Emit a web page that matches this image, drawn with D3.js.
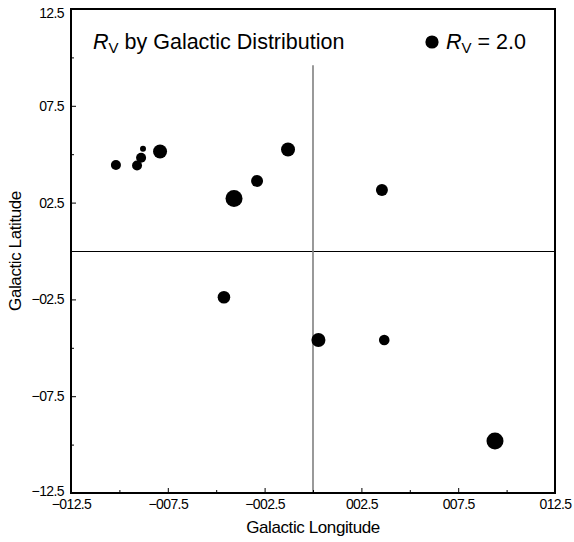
<!DOCTYPE html>
<html><head><meta charset="utf-8">
<script src="https://cdn.jsdelivr.net/npm/d3@7"></script>
<style>
html,body{margin:0;padding:0;background:#fff;}
text{font-family:"Liberation Sans",Arial,Helvetica,sans-serif;fill:#000;}
</style></head>
<body>
<svg id="chart" width="574" height="542"></svg>
<script>
// data
const longitude = [-10.18, -9.09, -8.88, -8.78, -7.90, -4.08, -2.89, -1.29, 3.56, -4.60, 0.28, 3.68, 9.40];
const latitude  = [4.44, 4.42, 4.82, 5.28, 5.14, 2.71, 3.62, 5.24, 3.15, -2.39, -4.60, -4.60, -9.81];
const rv        = [1.15, 1.15, 1.15, 0.41, 2.25, 3.32, 1.65, 2.25, 1.65, 1.82, 2.25, 1.29, 3.32];
const xTickValues = [-12.5, -7.5, -2.5, 2.5, 7.5, 12.5];
const xTickLabels = ["\u2212012.5", "\u2212007.5", "\u2212002.5", "002.5", "007.5", "012.5"];
const yTickValues = [12.5, 7.5, 2.5, -2.5, -7.5, -12.5];
const yTickLabels = ["12.5", "07.5", "02.5", "\u221202.5", "\u221207.5", "\u221212.5"];
const minorTicks = [-10, -5, 0, 5, 10];
const legendValue = 2.0;
const verticalLineTop = 9.6;

const svg = d3.select("#chart");
const L = 71, T = 9, W = 484, H = 484;
const x = d3.scaleLinear().domain([-12.5, 12.5]).range([L, L + W]);
const y = d3.scaleLinear().domain([-12.5, 12.5]).range([T + H, T]);
const r = d3.scaleSqrt().domain([0, 2]).range([0, 6.6]);

// reference lines
svg.append("line").attr("x1", x(-12.5)).attr("x2", x(12.5)).attr("y1", y(0) + 0.5).attr("y2", y(0) + 0.5)
  .attr("stroke", "#000").attr("stroke-width", 1);
svg.append("line").attr("x1", x(0)).attr("x2", x(0)).attr("y1", y(verticalLineTop)).attr("y2", y(-12.5))
  .attr("stroke", "#808080").attr("stroke-width", 1.6);

// axes
function styleAxis(g) {
  g.selectAll(".domain").remove();
  g.selectAll(".tick line").attr("stroke", "#000").attr("stroke-width", 1);
  g.selectAll(".tick text").attr("font-size", 14).attr("letter-spacing", "-0.6px")
    .attr("font-family", "\"Liberation Sans\",Arial,sans-serif");
}
const xAxis = svg.append("g").attr("transform", `translate(0,${T + H})`)
  .call(d3.axisBottom(x).tickValues(xTickValues).tickSizeInner(-5).tickSizeOuter(0).tickPadding(6)
    .tickFormat((d, i) => xTickLabels[i]));
styleAxis(xAxis);
const xMinor = svg.append("g").attr("transform", `translate(0,${T + H})`)
  .call(d3.axisBottom(x).tickValues(minorTicks).tickSizeInner(-3).tickSizeOuter(0).tickFormat(""));
styleAxis(xMinor);
const yAxis = svg.append("g").attr("transform", `translate(${L},0)`)
  .call(d3.axisLeft(y).tickValues(yTickValues).tickSizeInner(-5).tickSizeOuter(0).tickPadding(7)
    .tickFormat((d, i) => yTickLabels[i]));
styleAxis(yAxis);
yAxis.selectAll(".tick text").filter(d => d === 12.5).attr("dy", "0.62em");
yAxis.selectAll(".tick text").filter(d => d === -12.5).attr("dy", "0.2em");
const yMinor = svg.append("g").attr("transform", `translate(${L},0)`)
  .call(d3.axisLeft(y).tickValues(minorTicks).tickSizeInner(-3).tickSizeOuter(0).tickFormat(""));
styleAxis(yMinor);

// frame
svg.append("rect").attr("x", L).attr("y", T).attr("width", W).attr("height", H)
  .attr("fill", "none").attr("stroke", "#000").attr("stroke-width", 2);

// points
svg.append("g").selectAll("circle").data(longitude.map((d, i) => ({lon: d, lat: latitude[i], rv: rv[i]})))
  .join("circle")
  .attr("cx", d => x(d.lon)).attr("cy", d => y(d.lat)).attr("r", d => r(d.rv)).attr("fill", "#000");

// title
const title = svg.append("text").attr("x", 93).attr("y", 49).attr("font-size", 21.5);
title.append("tspan").attr("font-style", "italic").text("R");
title.append("tspan").attr("font-size", 15).attr("dy", 4).text("V");
title.append("tspan").attr("dy", -4).text(" by Galactic Distribution");

// legend
svg.append("circle").attr("cx", 432).attr("cy", 42).attr("r", r(legendValue)).attr("fill", "#000");
const leg = svg.append("text").attr("x", 446).attr("y", 49).attr("font-size", 21.5);
leg.append("tspan").attr("font-style", "italic").text("R");
leg.append("tspan").attr("font-size", 15).attr("dy", 4).text("V");
leg.append("tspan").attr("dy", -4).text(" = " + legendValue.toFixed(1));

// axis titles
svg.append("text").attr("x", x(0)).attr("y", 533).attr("text-anchor", "middle")
  .attr("font-size", 17).attr("letter-spacing", "-0.4px").text("Galactic Longitude");
svg.append("text").attr("transform", `translate(21,${y(0)}) rotate(-90)`).attr("text-anchor", "middle")
  .attr("font-size", 17).attr("letter-spacing", "-0.4px").text("Galactic Latitude");
</script>
</body></html>
